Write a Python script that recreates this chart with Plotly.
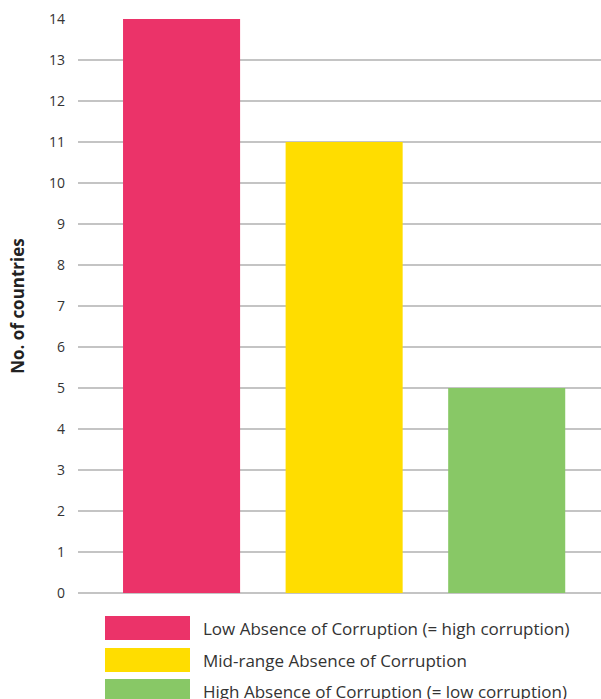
import plotly.graph_objects as go

categories = ["Low Absence of Corruption (= high corruption)",
              "Mid-range Absence of Corruption",
              "High Absence of Corruption (= low corruption)"]
counts = [14, 11, 5]
colors = ["#EB3369", "#FFDD00", "#88C866"]
y_ticks = list(range(0, 15))

W, H = 601, 699
L, R, T, B = 78, 0, 19, 106
pw, ph = W - L - R, H - T - B

def px(x):
    return (x - L) / pw

def py(y):
    return (H - B - y) / ph

fig = go.Figure()
fig.add_trace(go.Bar(
    x=list(range(len(categories))), y=counts,
    marker=dict(color=colors, line=dict(width=0)),
    width=0.72, showlegend=False, hoverinfo="y"))

font_family = "'Open Sans', sans-serif"

# legend (custom swatches)
swatch_tops = [616, 648, 679]
for i, (cat, col) in enumerate(zip(categories, colors)):
    top = swatch_tops[i]
    fig.add_shape(type="rect", xref="paper", yref="paper",
                  x0=px(105), x1=px(190), y0=py(top), y1=py(top + 24),
                  fillcolor=col, line=dict(width=0), layer="above")
    fig.add_annotation(xref="paper", yref="paper", x=px(201), y=py(top + 12),
                       text=cat, showarrow=False, xanchor="left", yanchor="middle",
                       font=dict(family=font_family, size=17, color="#333333"))

fig.update_layout(
    width=W, height=H,
    margin=dict(l=L, r=R, t=T, b=B),
    plot_bgcolor="white", paper_bgcolor="white",
    font=dict(family=font_family, color="#333333"),
    xaxis=dict(range=[-0.637, 2.58], showticklabels=False, showgrid=False,
               zeroline=False, showline=False, fixedrange=True),
    yaxis=dict(range=[0, 14], tickvals=y_ticks, showgrid=True,
               gridcolor="#C4C4C4", gridwidth=1.5, zeroline=True,
               zerolinecolor="#C4C4C4", zerolinewidth=2,
               ticks="", ticklabelstandoff=12,
               tickfont=dict(size=14, color="#333333"),
               title=dict(text="<b>No. of countries</b>", standoff=20,
                          font=dict(size=17, color="#222222")),
               showline=False),
    bargap=0.28,
)

fig.write_html("out.html", config={"displayModeBar": False},
               post_script="document.body.style.margin='0';document.body.style.overflow='hidden';")
